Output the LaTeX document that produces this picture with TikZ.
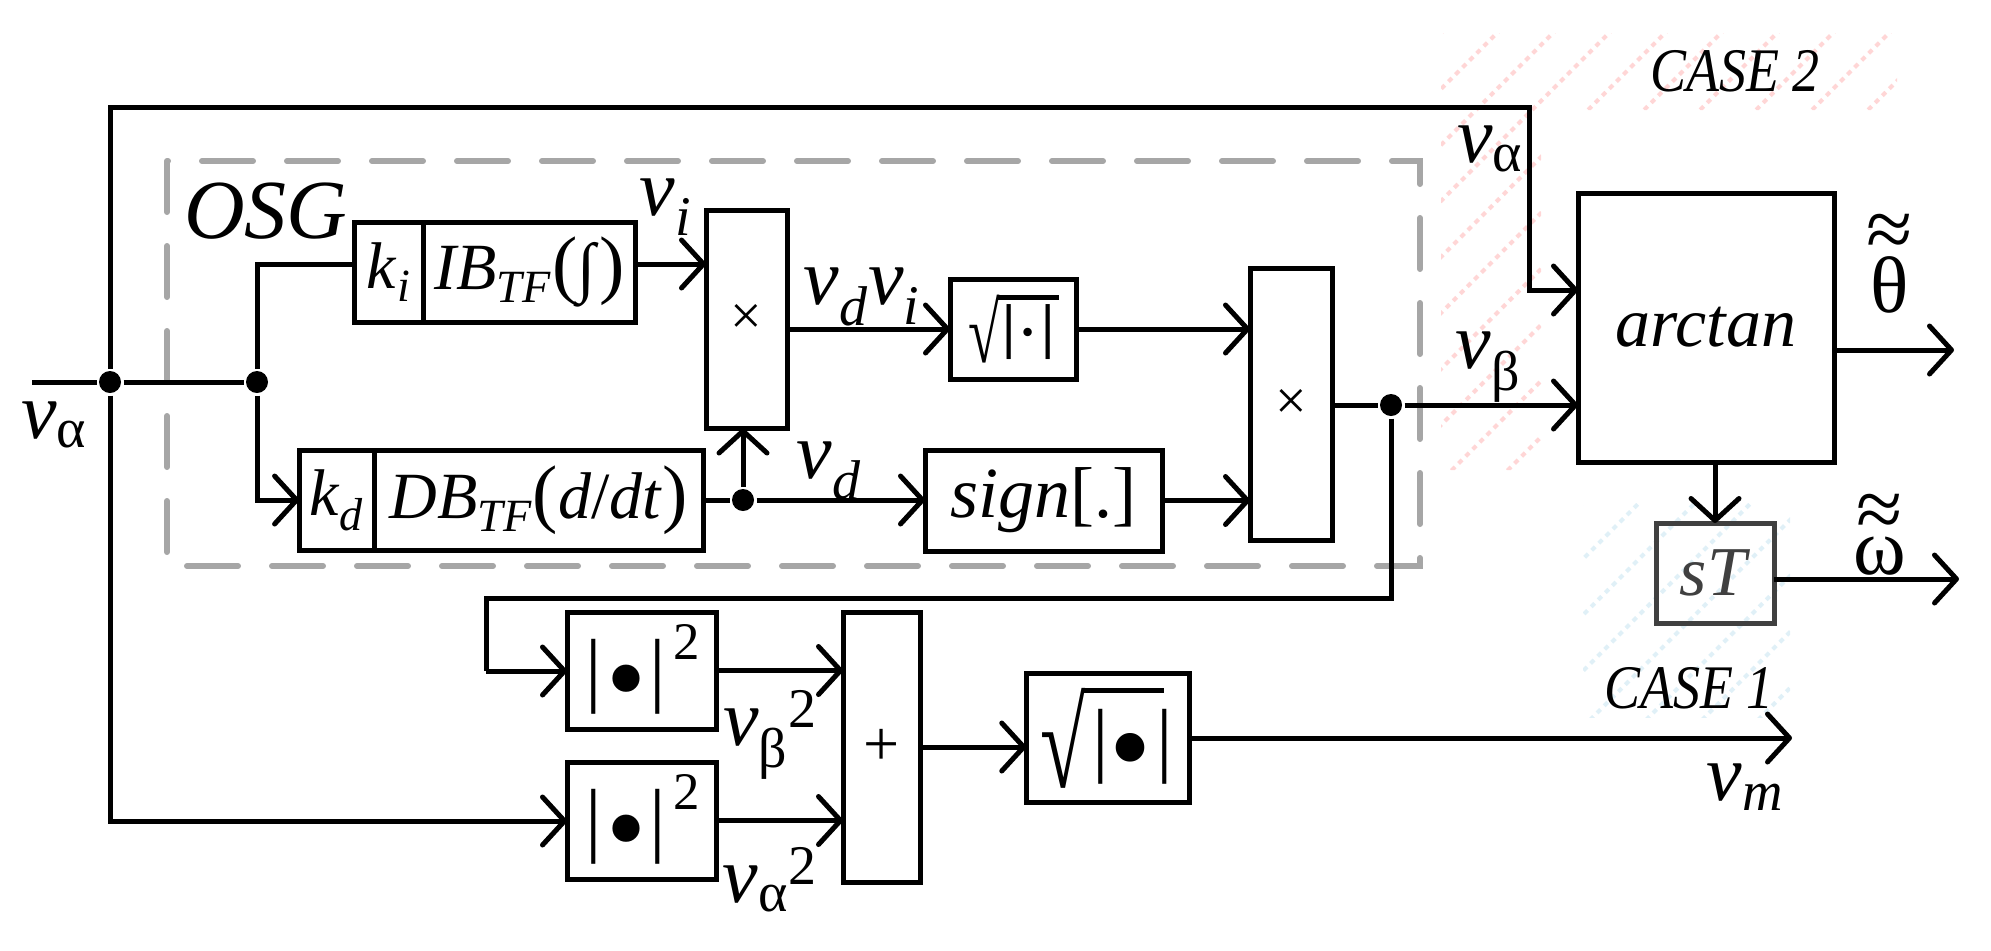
\documentclass[tikz,border=0pt]{standalone}
\usepackage{graphicx}
\usepackage{fontspec}
\setmainfont{Liberation Serif}
\usetikzlibrary{arrows.meta,calc}
\definecolor{dgray}{HTML}{A6A6A6}
\definecolor{hpink}{RGB}{255,214,214}
\definecolor{hblue}{RGB}{224,240,247}
\definecolor{stgray}{HTML}{404040}
\newcommand{\vsub}[1]{\textit{v}\textsubscript{#1}}
% glyph scaled to a total height, bottom placed at a given height over the baseline
\newcommand{\gl}[3]{\raisebox{#1}{\resizebox*{!}{#2}{\raisebox{\depth}{#3}}}}
\newcommand{\glw}[4]{\raisebox{#1}{\resizebox*{#2}{#3}{\raisebox{\depth}{#4}}}}
\newcommand{\absq}{%
\makebox[10pt]{\gl{0pt}{37.5pt}{|}}%
\makebox[22.5pt]{\gl{-1.45pt}{25.7pt}{•}}%
\makebox[9pt]{\gl{0pt}{37.5pt}{|}}%
\kern3.25pt\gl{27.5pt}{17.5pt}{2}}
\newcommand{\sqa}{%
\makebox[15.7pt][l]{\glw{-1.5pt}{15.7pt}{34pt}{√}}%
\kern-1.5pt\rlap{\rule[29.9pt]{31pt}{2.6pt}}\kern1.5pt%
\makebox[9pt]{\gl{0pt}{27.5pt}{\textbf{|}}}%
\makebox[10.35pt]{\gl{5.15pt}{10.6pt}{\textbf{·}}}%
\makebox[9.6pt]{\gl{0pt}{27.5pt}{\textbf{|}}}}
\newcommand{\sqb}{%
\makebox[22.6pt][l]{\glw{-2pt}{22.6pt}{50pt}{√}}%
\kern-1pt\rlap{\rule[46pt]{40pt}{2.5pt}}\kern1pt%
\makebox[14.5pt]{\gl{0pt}{37.5pt}{|}}%
\makebox[15pt]{\gl{-1.5pt}{27pt}{•}}%
\kern4.5pt\makebox[10.5pt]{\gl{0pt}{37.5pt}{|}}}
\begin{document}
\begin{tikzpicture}[x=0.5pt,y=-0.5pt,
  line width=2.5pt,
  arr/.style={-{Straight Barb[length=11pt,width=24pt,round]}},
  sz/.style 2 args={minimum width=#1*0.5pt,minimum height=#2*0.5pt},
  blk/.style={draw,line width=2.5pt,inner sep=0pt,outer sep=0pt,rectangle,font=\fontsize{33}{36}\selectfont},
  dot/.style={circle,fill,inner sep=0pt,minimum size=11pt},
  lbl/.style={font=\fontsize{40}{44}\selectfont,inner sep=0pt},
  tld/.style={font=\fontsize{42}{42}\selectfont,inner sep=0pt},
  casefont/.style={font=\fontsize{31}{34}\selectfont\itshape,inner sep=0pt},
  hatch/.style={line width=2pt,dash pattern=on 2.5pt off 2.5pt}]
\useasboundingbox (0,0) rectangle (1991,950);
% hatched backgrounds
\begin{scope}
\clip (1441,33) -- (1897,33) -- (1897,110) -- (1541,110) -- (1541,470) -- (1441,470) -- cycle;
\foreach \c in {1474,1530,...,2400} \draw[hatch,hpink] ({\c-520},520) -- (\c,0);
\end{scope}
\begin{scope}
\clip (1583,503) rectangle (1790,717);
\foreach \c in {2086,2142,...,2520} \draw[hatch,hblue] ({\c-720},720) -- ({\c-500},500);
\end{scope}
% OSG dashed frame
\draw[dgray,line width=3pt,line cap=round,dash pattern=on 25.5pt off 17pt] (167,161) rectangle (1420,566);
\node[font=\fontsize{42}{44}\selectfont\itshape,inner sep=0pt] (osg) at (266,211) {OSG};
% blocks
\node[blk,sz={69}{100}] (ki) at (389,272) {\textit{k}\textsubscript{\textit{i}}};
\node[blk,sz={212}{100}] (ib) at (529.5,272) {\textit{IB}\textsubscript{\textit{TF}}{\fontsize{38}{40}\selectfont(}\textit{∫}{\fontsize{38}{40}\selectfont)}};
\node[blk,sz={75}{100}] (kd) at (336.6,500) {\textit{k}\textsubscript{\textit{d}}};
\node[blk,sz={329}{100}] (db) at (538.5,500) {\textit{DB}\textsubscript{\textit{TF}}{\fontsize{38}{40}\selectfont(}\textit{d}/\textit{dt}{\fontsize{38}{40}\selectfont)}};
\node[blk,sz={81}{218},font=\fontsize{28}{30}\selectfont] (m1) at (746.5,319.5) {×};
\node[blk,sz={126}{100}] (sq1) at (1013,329) {\sqa};
\node[blk,sz={237}{101},font=\fontsize{36}{40}\selectfont] (sg) at (1043.5,500.5) {\textit{sign}[.]};
\node[blk,sz={82}{272},font=\fontsize{28}{30}\selectfont] (m2) at (1291,404) {×};
\node[blk,sz={256}{269},font=\fontsize{35}{38}\selectfont] (at) at (1706,327.5) {\textit{arctan}};
\node[blk,draw=stgray,text=stgray,sz={118}{100},font=\fontsize{35}{38}\selectfont] (st) at (1715,573) {\textit{sT}};
\node[blk,sz={149}{117}] (b1) at (641.5,670.5) {\absq};
\node[blk,sz={149}{117}] (b2) at (641.5,820.5) {\absq};
\node[blk,sz={77}{270},font=\fontsize{32}{34}\selectfont] (sum) at (881.5,747) {+};
\node[blk,sz={163.5}{129}] (sq2) at (1108,738) {\sqb};
% junction dots
\node[dot] (d1) at (110,382) {};
\node[dot] (d2) at (257,382) {};
\node[dot] (d3) at (743,500) {};
\node[dot] (d4) at (1391,405) {};
% corner coordinates
\coordinate (in) at (32,382);
\coordinate (tl) at (110,107);
\coordinate (tr) at (1529,107);
\coordinate (tr2) at (1529,290);
\coordinate (bl) at (110,821);
\coordinate (k1) at (257,264);
\coordinate (k2) at (257,500);
\coordinate (r1) at (1391,598);
\coordinate (r2) at (486,598);
\coordinate (r3) at (486,671);
\coordinate (thend) at (1954,350);
\coordinate (omend) at (1959,579);
\coordinate (vmend) at (1792,742);
% connectors
\draw (in) -- (d1) -- (d2);
\draw[arr] (d1) -- (tl) -- (tr) -- (tr2) -- (tr2 -| at.west);
\draw[arr] (d1) -- (bl) -- (bl -| b2.west);
\draw (d2) -- (k1) -- (k1 -| ki.west);
\draw[arr] (d2) -- (k2) -- (kd.west);
\draw[arr] (ib.east |- k1) -- (m1.west |- k1);
\draw (db.east) -- (d3);
\draw[arr] (d3) -- (d3 |- m1.south);
\draw[arr] (d3) -- (d3 -| sg.west);
\draw[arr] (m1.east |- sq1.west) -- (sq1.west);
\draw[arr] (sq1.east) -- (sq1.east -| m2.west);
\draw[arr] (sg.east) -- (sg.east -| m2.west);
\draw (m2.east |- d4) -- (d4);
\draw[arr] (d4) -- (d4 -| at.west);
\draw (d4) -- (r1) -- (r2) -- (r3);
\draw[arr] (r3) -- (r3 -| b1.west);
\draw[arr] (b1.east) -- (b1.east -| sum.west);
\draw[arr] (b2.east) -- (b2.east -| sum.west);
\draw[arr] (sum.east) -- (sum.east -| sq2.west);
\draw[arr] (sq2.east) -- (sq2.east -| vmend);
\draw[arr] (at.east |- thend) -- (thend);
\draw[arr] (st.north |- at.south) -- (st.north);
\draw[arr] (st.east |- omend) -- (omend);
% labels
\node[lbl] (lva) at (54,425) {\vsub{\upshape α}};
\node[lbl] (lva2) at (1490,149) {\vsub{\upshape α}};
\node[lbl] (lvb) at (1488,367) {\vsub{\upshape β}};
\node[lbl] (lvi) at (666,207) {\vsub{\itshape i}};
\node[lbl] (lvdvi) at (862,297) {\vsub{\itshape d}\vsub{\itshape i}};
\node[lbl] (lvd) at (829,471) {\vsub{\itshape d}};
\node[lbl] (lvb2) at (770,735) {\vsub{\upshape β}\textsuperscript{2}};
\node[lbl] (lva3) at (770,880) {\vsub{\upshape α}\textsuperscript{2}};
\node[lbl] (lvm) at (1745,787) {\vsub{\itshape m}};
\node[lbl] (lth) at (1890,285) {θ};
\node[tld] (lthw) at (1890,236) {≈};
\node[lbl] (lom) at (1880,556) {ω};
\node[tld] (lomw) at (1880,516) {≈};
\node[casefont] (c2) at (1735,71) {\scalebox{0.87}[1]{CASE 2}};
\node[casefont] (c1) at (1689,688) {\scalebox{0.87}[1]{CASE 1}};
\end{tikzpicture}
\end{document}
